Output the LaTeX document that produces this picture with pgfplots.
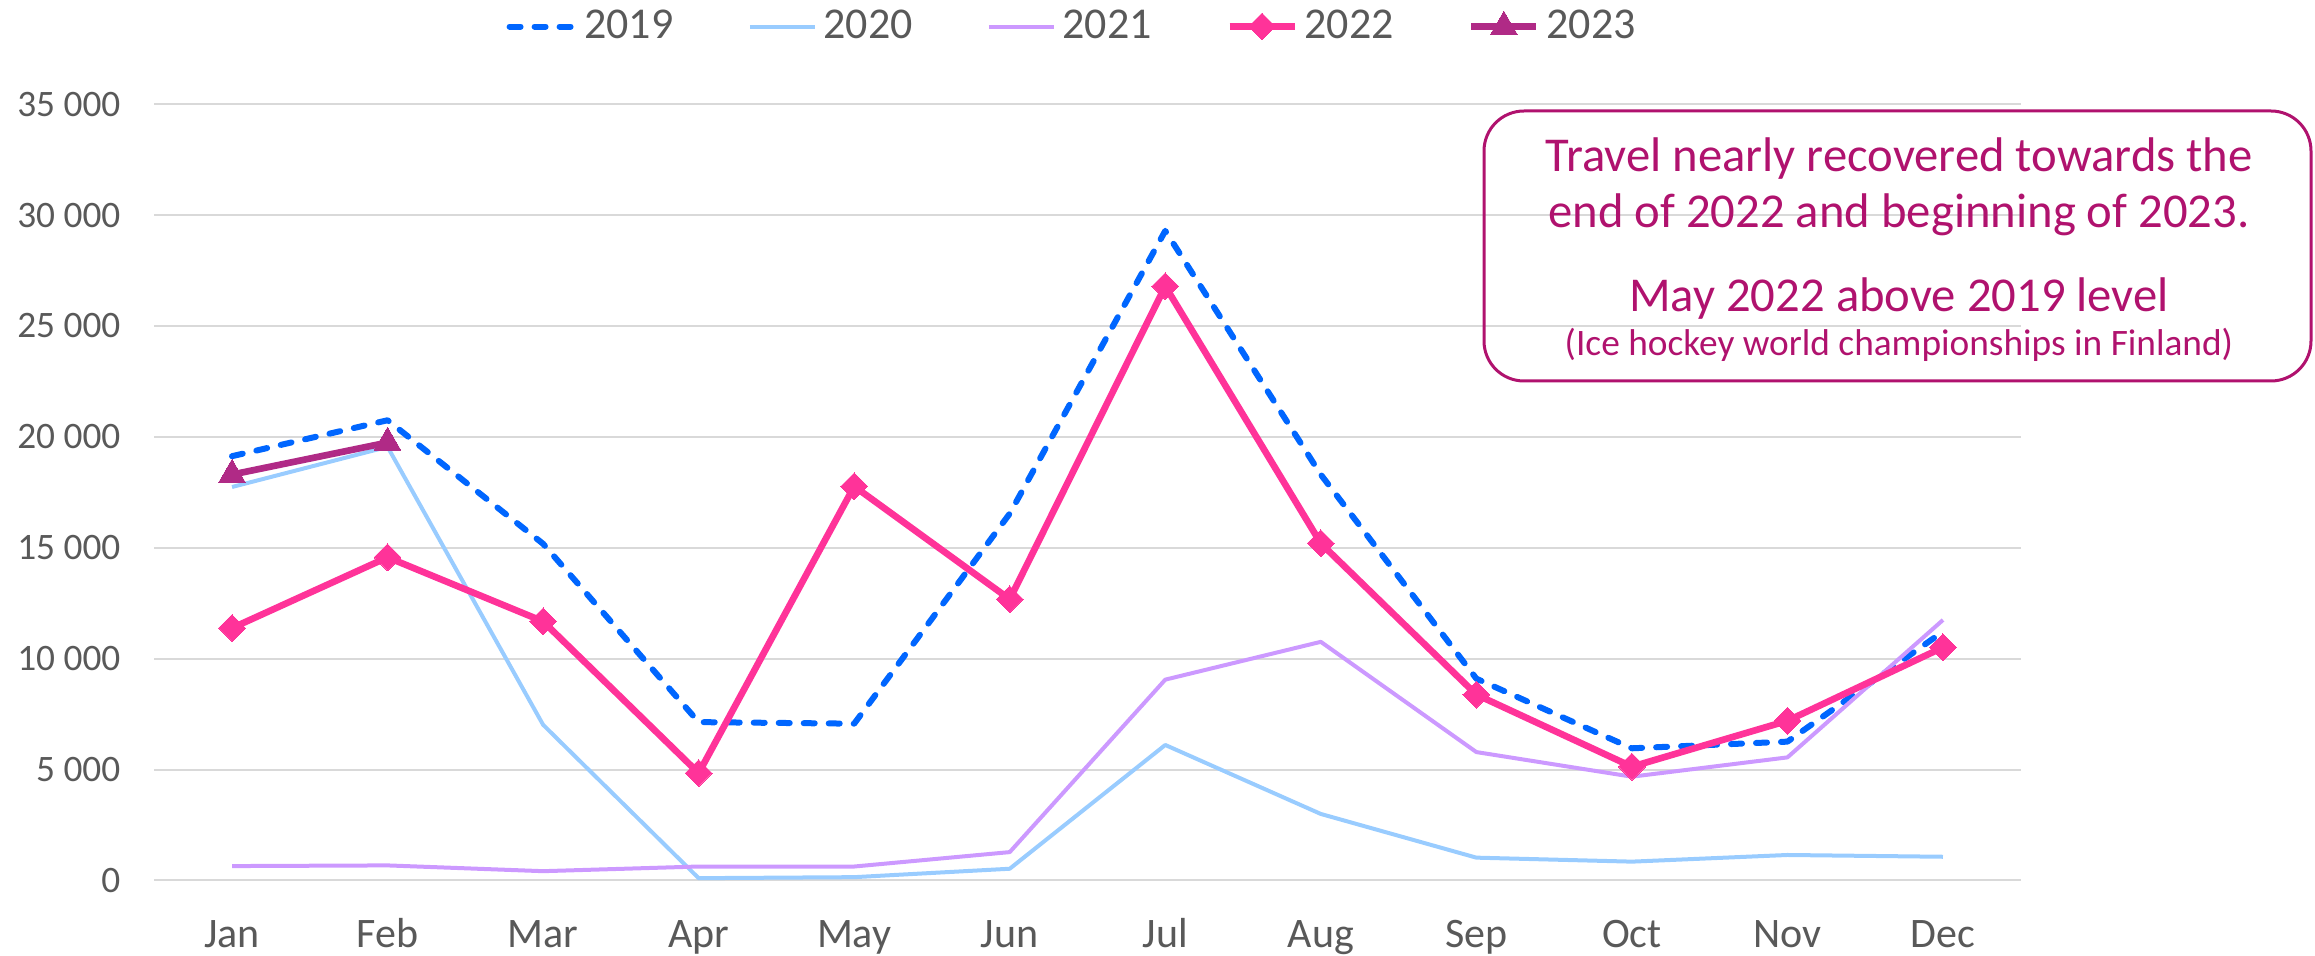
\documentclass[border=0pt]{standalone}
\usepackage{fontspec}
\setmainfont{Carlito}
\usepackage{pgfplots}
\pgfplotsset{compat=1.18}
\definecolor{cA}{HTML}{0066FF}
\definecolor{cB}{HTML}{99CCFF}
\definecolor{cC}{HTML}{CC99FF}
\definecolor{cD}{HTML}{FF3399}
\definecolor{cE}{HTML}{B02A86}
\definecolor{annot}{RGB}{176,18,110}
\definecolor{textgray}{HTML}{595959}
\definecolor{gridgray}{HTML}{D9D9D9}
\begin{document}
\begin{tikzpicture}[x=1pt,y=1pt]
\useasboundingbox (0,0) rectangle (694.5,286.8);
\begin{axis}[
  at={(46.275pt,22.65pt)}, anchor=south west,
  scale only axis, width=559.95pt, height=232.9pt,
  xmin=-0.5, xmax=11.5, ymin=0, ymax=35000,
  scaled y ticks=false,
  axis line style={draw=none},
  major tick length=0pt,
  tick style={draw=none},
  ymajorgrids, grid style={color=gridgray, line width=0.6pt},
  xtick={0,1,2,3,4,5,6,7,8,9,10,11},
  xticklabels={Jan,Feb,Mar,Apr,May,Jun,Jul,Aug,Sep,Oct,Nov,Dec},
  ytick={0,5000,10000,15000,20000,25000,30000,35000},
  yticklabels={0,5 000,10 000,15 000,20 000,25 000,30 000,35 000},
  xticklabel style={anchor=base, yshift=-20.25pt, inner sep=0pt, font=\fontsize{12.6}{14}\selectfont, text=textgray},
  yticklabel style={anchor=east, xshift=-9.975pt, inner sep=0pt, font=\fontsize{11.2}{13}\selectfont, text=textgray},
  clip=false,
  legend columns=5,
  legend style={at={(0.493,1.1)}, anchor=center, draw=none, fill=none,
    font=\fontsize{13.2}{15}\selectfont, text=textgray,
    /tikz/every even column/.append style={column sep=20.3pt}},
  legend image code/.code={\draw[mark repeat=2,mark phase=2,#1] plot coordinates {(0pt,0pt)(9.75pt,0pt)(19.5pt,0pt)};},
]
\addplot[cA, line width=1.8pt, dash pattern=on 3.3pt off 4.2pt, line cap=round, line join=round] coordinates {
(0,19130)(1,20750)(2,15180)(3,7140)(4,7070)(5,16540)(6,29290)(7,18300)(8,9100)(9,5960)(10,6260)(11,11220)};
\addlegendentry{2019}
\addplot[cB, line width=1.2pt, line join=round] coordinates {
(0,17740)(1,19550)(2,7020)(3,105)(4,150)(5,530)(6,6110)(7,3000)(8,1030)(9,850)(10,1150)(11,1070)};
\addlegendentry{2020}
\addplot[cC, line width=1.2pt, line join=round] coordinates {
(0,650)(1,680)(2,420)(3,630)(4,630)(5,1280)(6,9055)(7,10760)(8,5790)(9,4680)(10,5550)(11,11745)};
\addlegendentry{2021}
\addplot[cD, line width=2pt, line join=round, mark=square*, mark size=2.85pt, mark options={rotate=45, solid, fill=cD, draw=cD, line width=0pt}] coordinates {
(0,11380)(1,14570)(2,11680)(3,4840)(4,17770)(5,12680)(6,26790)(7,15200)(8,8380)(9,5130)(10,7200)(11,10510)};
\addlegendentry{2022}
\addplot[cE, line width=2pt, line join=round, mark=triangle*, mark size=4.6pt, mark options={solid, fill=cE, draw=cE, line width=0pt}] coordinates {
(0,18300)(1,19745)};
\addlegendentry{2023}
\end{axis}
\draw[annot, line width=0.9pt, rounded corners=12pt] (445.2,172.5) rectangle (693.3,253.5);
\node[anchor=base, text=annot, font=\fontsize{14.6}{16}\selectfont, inner sep=0pt] at (569.7,235.2) {Travel nearly recovered towards the};
\node[anchor=base, text=annot, font=\fontsize{14.6}{16}\selectfont, inner sep=0pt] at (569.7,218.4) {end of 2022 and beginning of 2023.};
\node[anchor=base, text=annot, font=\fontsize{14.6}{16}\selectfont, inner sep=0pt] at (569.7,193.2) {May 2022 above 2019 level};
\node[anchor=base, text=annot, font=\fontsize{11.2}{13}\selectfont, inner sep=0pt] at (569.7,180.0) {(Ice hockey world championships in Finland)};
\end{tikzpicture}
\end{document}
